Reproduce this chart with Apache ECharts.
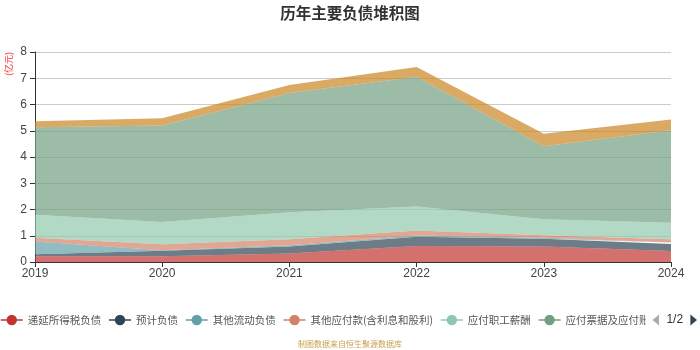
<!DOCTYPE html>
<html>
<head>
<meta charset="utf-8">
<script src="https://cdn.jsdelivr.net/npm/echarts@6/dist/echarts.min.js"></script>
<style>html,body{margin:0;padding:0;background:#fff}#c{width:700px;height:350px}</style>
</head>
<body>
<div id="c"></div>
<script>
var years = ['2019', '2020', '2021', '2022', '2023', '2024'];
var names = ['递延所得税负债', '预计负债', '其他流动负债', '其他应付款(含利息和股利)', '应付职工薪酬', '应付票据及应付账款', '合同负债'];
var deferredTax = [0.22, 0.22, 0.32, 0.61, 0.59, 0.42];
var provisions = [0.08, 0.21, 0.27, 0.35, 0.30, 0.27];
var otherCurrent = [0.48, 0.02, 0.05, 0.05, 0.03, 0.05];
var otherPayables = [0.14, 0.23, 0.23, 0.19, 0.10, 0.13];
var payroll = [0.88, 0.84, 1.03, 0.91, 0.61, 0.63];
var notesAccounts = [3.33, 3.68, 4.54, 4.95, 2.78, 3.52];
var contractLiab = [0.23, 0.28, 0.30, 0.37, 0.48, 0.41];
var yTicks = [0, 1, 2, 3, 4, 5, 6, 7, 8];

var colors = ['#c23531', '#2f4554', '#61a0a8', '#d48265', '#91c7ae', '#749f83', '#ca8622'];
var seriesData = [deferredTax, provisions, otherCurrent, otherPayables, payroll, notesAccounts, contractLiab];

var chart = echarts.init(document.getElementById('c'), null, {renderer: 'canvas'});
chart.setOption({
  animation: false,
  color: colors,
  title: {
    text: '历年主要负债堆积图',
    left: 'center',
    top: 0,
    textStyle: {fontSize: 15.5, fontWeight: 'bold', color: '#333', fontFamily: 'Noto Sans CJK SC'}
  },
  graphic: [
    {type: 'text', left: 4, top: 52, rotation: Math.PI / 2, style: {text: '(亿元)', fill: '#ff3333', font: '9px "Noto Sans CJK SC"'}},
    {type: 'text', left: 'center', top: 340, style: {text: '制图数据来自恒生聚源数据库', fill: '#c9a04e', font: '8px "Noto Sans CJK SC"'}}
  ],
  legend: {
    type: 'scroll',
    data: names,
    left: 0,
    right: 0,
    top: 309,
    padding: [5, 3, 5, 0],
    itemWidth: 22,
    itemHeight: 13,
    itemGap: 7,
    textStyle: {fontSize: 10.5, color: '#555', fontFamily: 'Noto Sans CJK SC'},
    lineStyle: {width: 1.5},
    itemStyle: {borderWidth: 0},
    pageIconColor: '#2f4554',
    pageIconInactiveColor: '#aaa',
    pageIconSize: 11,
    pageButtonItemGap: 2,
    pageTextStyle: {color: '#333', fontSize: 12}
  },
  grid: {left: 35, right: 29, top: 52, bottom: 88, containLabel: false},
  xAxis: {
    type: 'category',
    data: years,
    boundaryGap: false,
    axisLine: {lineStyle: {color: '#333'}},
    axisTick: {show: true, alignWithLabel: true, lineStyle: {color: '#333'}},
    axisLabel: {color: '#444', fontSize: 12, margin: 6}
  },
  yAxis: {
    type: 'value',
    min: yTicks[0],
    max: yTicks[yTicks.length - 1],
    interval: 1,
    axisLine: {show: true, lineStyle: {color: '#333'}},
    axisTick: {show: true, lineStyle: {color: '#333'}},
    axisLabel: {color: '#444', fontSize: 12, margin: 8},
    splitLine: {show: true, lineStyle: {color: '#ccc'}}
  },
  series: names.map(function (n, i) {
    return {
      name: n,
      type: 'line',
      stack: 'total',
      data: seriesData[i],
      showSymbol: false,
      symbol: 'circle',
      symbolSize: 8,
      lineStyle: {width: 0},
      areaStyle: {opacity: 0.7},
      z: 2
    };
  })
});
</script>
</body>
</html>
